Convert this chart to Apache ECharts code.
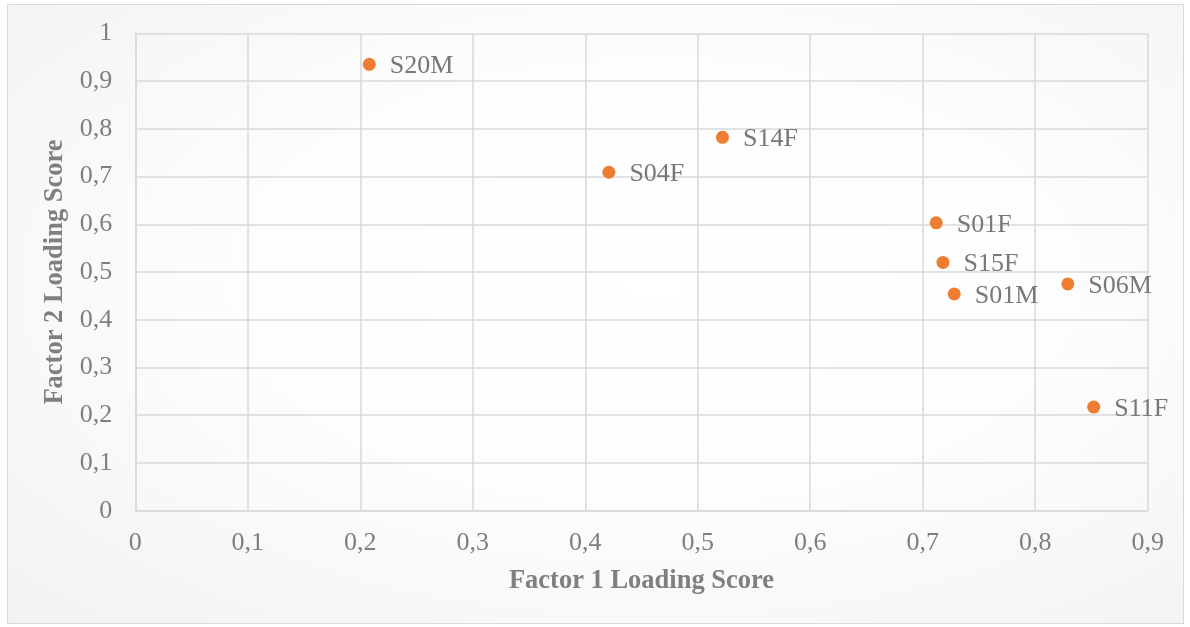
<!DOCTYPE html>
<html>
<head>
<meta charset="utf-8">
<script src="https://cdn.jsdelivr.net/npm/echarts@6/dist/echarts.min.js"></script>
<style>
html,body{margin:0;padding:0;width:1190px;height:627px;background:#fff;overflow:hidden;}
#frame{position:absolute;left:7px;top:4px;width:1175px;height:618px;border:1px solid #d9d9d9;
background:radial-gradient(ellipse at 55% 45%, #ffffff 0%, #fdfdfd 45%, #f2f2f2 100%);}
#chart{position:absolute;left:0;top:0;width:1190px;height:627px;}
</style>
</head>
<body>
<div id="frame"></div>
<div id="chart"></div>
<script>
const pointNames = ['S20M','S04F','S14F','S01F','S15F','S01M','S06M','S11F'];
const factor1 = [0.208, 0.421, 0.522, 0.712, 0.718, 0.728, 0.829, 0.852];
const factor2 = [0.935, 0.709, 0.782, 0.603, 0.520, 0.454, 0.475, 0.217];
const xTickLabels = ['0','0,1','0,2','0,3','0,4','0,5','0,6','0,7','0,8','0,9'];
const yTickLabels = ['0','0,1','0,2','0,3','0,4','0,5','0,6','0,7','0,8','0,9','1'];
const xTitle = 'Factor 1 Loading Score';
const yTitle = 'Factor 2 Loading Score';

const chart = echarts.init(document.getElementById('chart'));
const font = '"Liberation Serif","Times New Roman",serif';
const gray = '#7f7f7f';
const gridCol = '#d9d9d9';

const data = pointNames.map((n,i)=>({name:n, value:[factor1[i], factor2[i]]}));

chart.setOption({
  backgroundColor: 'transparent',
  animation: false,
  grid: {left: 135.3, right: 42.3, top: 33.3, bottom: 116.3},
  xAxis: {
    type: 'value', min: 0, max: 0.9, interval: 0.1,
    axisLine: {show: true, lineStyle: {color: gridCol, width: 1.5}},
    axisTick: {show: false},
    splitLine: {show: true, lineStyle: {color: gridCol, width: 1.5}},
    axisLabel: {color: gray, fontFamily: font, fontSize: 26, margin: 19,
      formatter: v => xTickLabels[Math.round(v*10)]},
    name: xTitle, nameLocation: 'middle', nameGap: 57,
    nameTextStyle: {color: gray, fontFamily: font, fontSize: 26.5, fontWeight: 'bold'}
  },
  yAxis: {
    type: 'value', min: 0, max: 1, interval: 0.1,
    axisLine: {show: true, lineStyle: {color: gridCol, width: 1.5}},
    axisTick: {show: false},
    splitLine: {show: true, lineStyle: {color: gridCol, width: 1.5}},
    axisLabel: {color: gray, fontFamily: font, fontSize: 26, margin: 23,
      formatter: v => yTickLabels[Math.round(v*10)]},
    name: yTitle, nameLocation: 'middle', nameGap: 62,
    nameTextStyle: {color: gray, fontFamily: font, fontSize: 26.5, fontWeight: 'bold'}
  },
  series: [{
    type: 'scatter',
    data: data,
    symbol: 'circle',
    symbolSize: 13,
    itemStyle: {color: '#ed7d31', opacity: 1},
    label: {show: true, position: 'right', distance: 14, offset: [0, 2], formatter: p => p.name,
      color: '#787878', fontFamily: font, fontSize: 26}
  }]
});
</script>
</body>
</html>
